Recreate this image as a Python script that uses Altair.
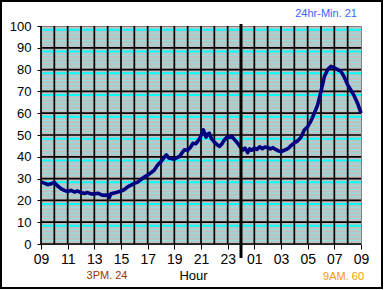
import altair as alt
import pandas as pd

# hours elapsed since 09:00 (x) and reading (y)
hours = [0.00, 0.25, 0.50, 0.75, 1.00, 1.25, 1.50, 1.75, 2.00, 2.25, 2.50, 2.75,
         3.00, 3.25, 3.50, 3.75, 4.00, 4.25, 4.50, 4.75, 5.00, 5.12, 5.25, 5.50,
         5.75, 6.00, 6.25, 6.50, 6.75, 7.00, 7.25, 7.50, 7.75, 8.00, 8.25, 8.50,
         8.75, 9.00, 9.25, 9.40, 9.60, 9.75, 10.00, 10.25, 10.40, 10.60, 10.75, 11.00,
         11.20, 11.40, 11.60, 11.75, 12.00, 12.18, 12.38, 12.50, 12.62, 12.80, 13.00, 13.20,
         13.38, 13.55, 13.75, 14.00, 14.15, 14.30, 14.50, 14.75, 15.00, 15.15, 15.30, 15.50,
         15.65, 15.80, 16.00, 16.20, 16.40, 16.60, 16.80, 17.00, 17.20, 17.40, 17.60, 17.80,
         18.00, 18.20, 18.40, 18.60, 18.80, 19.00, 19.25, 19.50, 19.75, 20.00, 20.25, 20.50,
         20.75, 21.00, 21.25, 21.50, 21.75, 22.00, 22.25, 22.50, 22.75, 23.00, 23.25, 23.50,
         23.75, 24.00]
values = [28.5, 27.9, 27.2, 27.6, 28.2, 26.6, 25.4, 24.6, 24.0, 24.6, 23.9, 24.3,
          23.6, 23.2, 23.6, 23.0, 22.9, 23.3, 22.6, 22.3, 22.6, 21.3, 23.0, 23.4,
          23.8, 24.3, 25.0, 26.2, 27.0, 27.8, 28.4, 29.6, 30.7, 31.6, 32.7, 33.9,
          36.2, 37.8, 39.8, 40.9, 39.4, 39.2, 38.9, 39.8, 40.2, 42.0, 43.2, 43.0,
          44.3, 46.2, 46.0, 47.0, 49.6, 52.3, 49.0, 50.4, 50.8, 48.2, 46.8, 45.6,
          44.8, 45.8, 47.7, 49.3, 48.9, 49.4, 48.0, 46.2, 44.0, 43.2, 44.0, 41.9,
          43.6, 43.0, 44.0, 43.4, 44.6, 43.7, 44.5, 44.3, 43.6, 44.2, 43.4, 42.7,
          42.3, 42.9, 43.4, 44.2, 45.4, 46.4, 47.3, 49.0, 52.3, 53.8, 56.5, 60.0,
          63.8, 70.0, 76.7, 80.0, 81.5, 80.8, 80.0, 79.2, 76.5, 73.0, 70.5, 67.8,
          64.5, 60.0]

x_tick_hours = list(range(0, 25, 2))
y_tick_values = list(range(0, 101, 10))
hour_grid = list(range(0, 24))
major_grid = list(range(0, 100, 10))
minor_bright = [round(10 * k + 10 * 5 / 6, 2) for k in range(10)]
minor_light = [round(10 * k + 10 * j / 6, 2) for k in range(10) for j in range(1, 5)]
divider_hour = [15]
notes_top = ["24hr-Min. 21"]
notes_left = ["3PM. 24"]
notes_right = ["9AM. 60"]

W, H = 320, 218
FONT = "Liberation Sans"

xs = alt.Scale(domain=[0, 24], nice=False, zero=False)
ys = alt.Scale(domain=[0, 100], nice=False, zero=True)

label_expr = ("(((datum.value + 9) % 24) < 10 ? '0' : '') + ((datum.value + 9) % 24)")
x_axis = alt.Axis(values=x_tick_hours, labelExpr=label_expr, title="Hour",
                  grid=False, domain=False, tickColor="black", tickSize=5,
                  tickWidth=1, labelFont=FONT, labelFontSize=14,
                  labelColor="black", labelPadding=3, labelFlush=False,
                  titleFont=FONT, titleFontSize=13, titleFontWeight="normal",
                  titleColor="black", titleX=152, titleY=25)
y_axis = alt.Axis(values=y_tick_values, title=None, grid=False, domain=False,
                  tickColor="black", tickSize=4, tickWidth=1,
                  labelFont=FONT, labelFontSize=13, labelColor="black",
                  labelPadding=6)

light = alt.Chart(pd.DataFrame({"v": minor_light})).mark_rule(
    color="#86E6E6", strokeWidth=1).encode(y=alt.Y("v:Q", scale=ys, axis=y_axis))
bright = alt.Chart(pd.DataFrame({"v": minor_bright})).mark_rule(
    color="#00FFFF", strokeWidth=2).encode(y=alt.Y("v:Q", scale=ys, axis=y_axis))
hmajor = alt.Chart(pd.DataFrame({"v": major_grid})).mark_rule(
    color="black", strokeWidth=1.7).encode(y=alt.Y("v:Q", scale=ys, axis=y_axis))
vgrid = alt.Chart(pd.DataFrame({"h": hour_grid})).mark_rule(
    color="black", strokeWidth=1.7).encode(x=alt.X("h:Q", scale=xs, axis=x_axis))

line = alt.Chart(pd.DataFrame({"h": hours, "v": values})).mark_line(
    color="#000080", strokeWidth=3.6, strokeJoin="round").encode(
    x=alt.X("h:Q", scale=xs, axis=x_axis),
    y=alt.Y("v:Q", scale=ys, axis=y_axis),
)

divider = alt.Chart(pd.DataFrame({"h": divider_hour})).mark_rule(
    color="black", strokeWidth=3).encode(
    x=alt.X("h:Q", scale=xs, axis=x_axis), y=alt.value(-2), y2=alt.value(H + 14))

frame = alt.Chart(pd.DataFrame({"a": [0]})).mark_rect(
    fillOpacity=0, stroke="black", strokeWidth=2).encode(
    x=alt.value(-40), x2=alt.value(341), y=alt.value(-25), y2=alt.value(262))

t_top = alt.Chart(pd.DataFrame({"t": notes_top})).mark_text(
    font=FONT, fontSize=11, color="#3366FF", align="right", baseline="middle").encode(
    text="t:N", x=alt.value(316), y=alt.value(-12))
t_left = alt.Chart(pd.DataFrame({"t": notes_left})).mark_text(
    font=FONT, fontSize=11, color="#993300", align="center", baseline="middle").encode(
    text="t:N", x=alt.value(66), y=alt.value(250))
t_right = alt.Chart(pd.DataFrame({"t": notes_right})).mark_text(
    font=FONT, fontSize=11, color="#FF9900", align="right", baseline="middle").encode(
    text="t:N", x=alt.value(323), y=alt.value(251))

chart = alt.layer(light, bright, hmajor, vgrid, line, divider, frame,
                  t_top, t_left, t_right).properties(
    width=W, height=H,
    autosize=alt.AutoSizeParams(type="none"),
    padding={"left": 41, "top": 26, "right": 24, "bottom": 46},
    background="white",
).configure_view(fill="#C0C0C0", stroke="#808080", strokeWidth=1)

chart.save("out.html", embed_options={"renderer": "svg", "actions": False})
